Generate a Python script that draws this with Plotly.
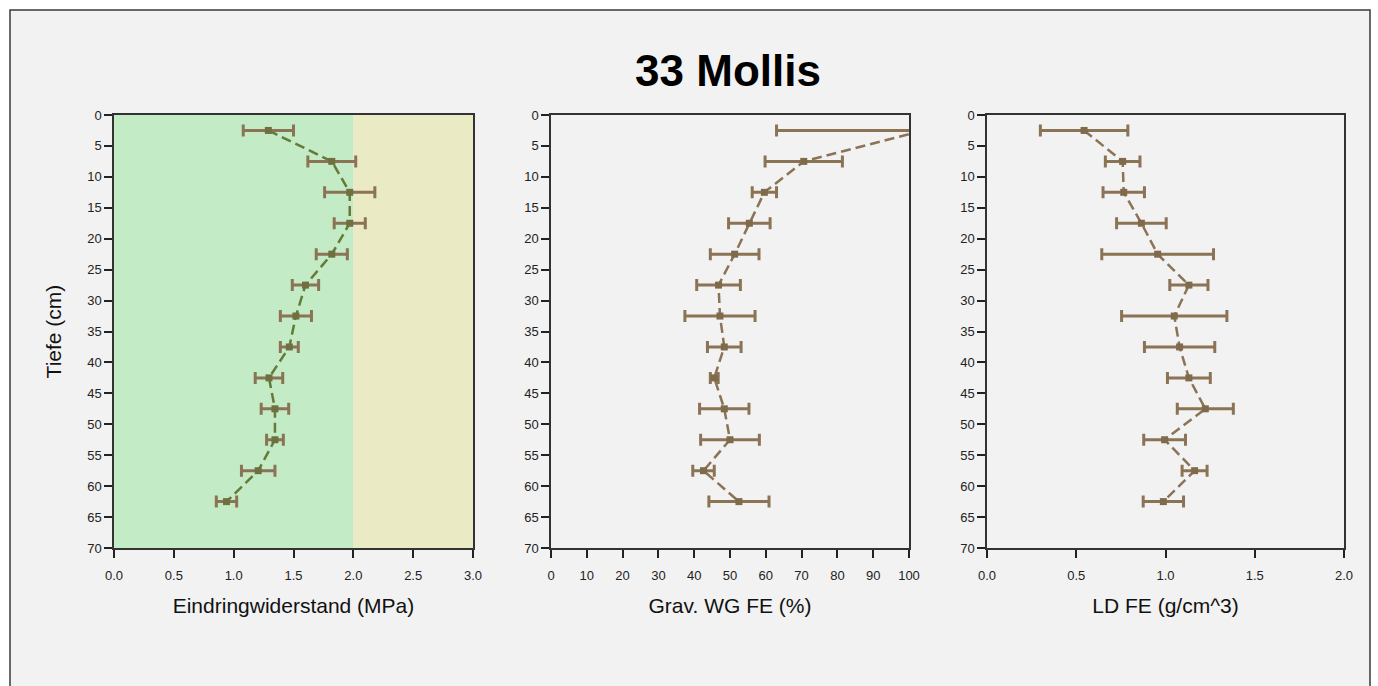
import plotly.graph_objects as go

W, H = 1378, 686

depth = [2.5, 7.5, 12.5, 17.5, 22.5, 27.5, 32.5, 37.5, 42.5, 47.5, 52.5, 57.5, 62.5]

ew_mean = [1.29, 1.82, 1.97, 1.97, 1.82, 1.60, 1.52, 1.465, 1.295, 1.345, 1.345, 1.205, 0.94]
ew_err = [0.21, 0.20, 0.21, 0.13, 0.13, 0.11, 0.13, 0.075, 0.115, 0.115, 0.07, 0.14, 0.085]

wg_mean = [104.0, 70.6, 59.6, 55.4, 51.3, 46.8, 47.2, 48.4, 45.6, 48.4, 50.0, 42.6, 52.5]
wg_err = [41.0, 10.8, 3.4, 5.8, 6.8, 6.1, 9.8, 4.7, 1.1, 6.9, 8.2, 3.0, 8.4]

ld_mean = [0.544, 0.760, 0.766, 0.865, 0.956, 1.131, 1.049, 1.079, 1.131, 1.223, 0.995, 1.163, 0.988]
ld_err = [0.245, 0.097, 0.116, 0.139, 0.313, 0.107, 0.295, 0.197, 0.12, 0.157, 0.117, 0.07, 0.113]

title = "33 Mollis"
x_titles = ["Eindringwiderstand (MPa)", "Grav. WG FE (%)", "LD FE (g/cm^3)"]
x_ranges = [[0, 3], [0, 100], [0, 2]]
x_dticks = [0.5, 10, 0.5]
x_formats = [".1f", "d", ".1f"]
y_title = "Tiefe (cm)"

BROWN = "#8b7355"
OLIVE = "#667a38"
OLIVE_MK = "#6e7040"
BROWN_MK = "#7f6a4b"

panels_px = [(114, 473), (551, 909), (987, 1344)]
y_top, y_bot = 115, 548

fig = go.Figure()

series = [(ew_mean, ew_err, OLIVE, OLIVE_MK), (wg_mean, wg_err, BROWN, BROWN_MK), (ld_mean, ld_err, BROWN, BROWN_MK)]
font_family = "Liberation Sans, Arial, sans-serif"

for i, (m, e, lc, mc) in enumerate(series):
    xa = "x" if i == 0 else f"x{i+1}"
    ya = "y" if i == 0 else f"y{i+1}"
    fig.add_trace(go.Scatter(
        x=m, y=depth, xaxis=xa, yaxis=ya, mode="lines",
        line=dict(color=lc, width=2.5, dash="10px,5px"),
        showlegend=False, hoverinfo="skip", cliponaxis=True))
    fig.add_trace(go.Scatter(
        x=m, y=depth, xaxis=xa, yaxis=ya, mode="markers",
        marker=dict(symbol="square", size=7, color=mc),
        error_x=dict(type="data", array=e, visible=True, color=BROWN, thickness=3, width=6),
        showlegend=False, cliponaxis=True))

layout = dict(
    width=W, height=H,
    margin=dict(l=0, r=0, t=0, b=0),
    paper_bgcolor="white",
    plot_bgcolor="#f2f2f2",
    font=dict(family=font_family, color="#111111"),
    showlegend=False,
    title=dict(text=f"<b>{title}</b>", x=728 / W, y=1 - 71 / H, xanchor="center", yanchor="middle",
               font=dict(size=44, family=font_family, color="black")),
)

for i, (x0, x1) in enumerate(panels_px):
    suffix = "" if i == 0 else str(i + 1)
    layout[f"xaxis{suffix}"] = dict(
        domain=[x0 / W, x1 / W], anchor=f"y{suffix}", range=x_ranges[i],
        dtick=x_dticks[i], tick0=0, tickformat=x_formats[i],
        ticks="outside", ticklen=8, tickcolor="#222", tickwidth=1.5,
        showline=True, linecolor="#333", linewidth=1.5, mirror=True,
        showgrid=False, zeroline=False, automargin=False,
        tickfont=dict(size=13, color="#222"),
        title=dict(text=x_titles[i], font=dict(size=21, color="#111"), standoff=16),
        ticklabelstandoff=7,
    )
    layout[f"yaxis{suffix}"] = dict(
        domain=[1 - y_bot / H, 1 - y_top / H], anchor=f"x{suffix}", range=[70, 0],
        dtick=5, tick0=0, ticks="outside", ticklen=8, tickcolor="#222", tickwidth=1.5,
        showline=True, linecolor="#333", linewidth=1.5, mirror=True,
        showgrid=False, zeroline=False, automargin=False,
        tickfont=dict(size=13, color="#222"),
        title=dict(text=y_title if i == 0 else "", font=dict(size=21, color="#111"), standoff=20),
    )

fig.update_layout(**layout)

shapes = [
    dict(type="rect", xref="paper", yref="paper", x0=10 / W, x1=1370 / W, y0=-0.05, y1=1 - 10 / H,
         fillcolor="#f2f2f2", line=dict(color="#3a3a3a", width=1.5), layer="below"),
    dict(type="rect", xref="x", yref="y", x0=0, x1=2, y0=0, y1=70,
         fillcolor="#c3ebc6", line=dict(width=0), layer="below"),
    dict(type="rect", xref="x", yref="y", x0=2, x1=3, y0=0, y1=70,
         fillcolor="#eaeac4", line=dict(width=0), layer="below"),
]
fig.update_layout(shapes=shapes)

fig.write_html("out.html")
